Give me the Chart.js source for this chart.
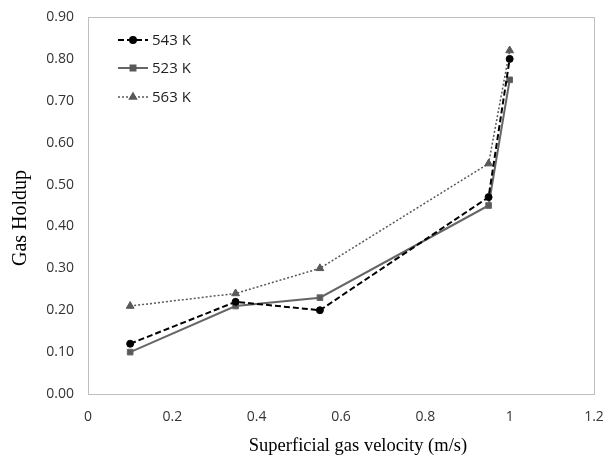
<!DOCTYPE html>
<html><head><meta charset="utf-8">
<script src="https://cdn.jsdelivr.net/npm/chart.js@4"></script>
<style>html,body{margin:0;padding:0;background:#fff}#wrap{width:612px;height:457px}</style>
</head><body><div id="wrap"><canvas id="c" width="612" height="457"></canvas></div>
<script>
const velocity = [0.1, 0.35, 0.55, 0.95, 1.0];
const holdup543 = [0.12, 0.22, 0.20, 0.47, 0.80];
const holdup523 = [0.10, 0.21, 0.23, 0.45, 0.75];
const holdup563 = [0.21, 0.24, 0.30, 0.55, 0.82];
const seriesNames = ['543 K', '523 K', '563 K'];
const xTitle = 'Superficial gas velocity (m/s)';
const yTitle = 'Gas Holdup';

function pts(ys){ return velocity.map((x,i)=>({x:x,y:ys[i]})); }

const ds = [
  {label:seriesNames[0], data:pts(holdup543), borderColor:'#000', backgroundColor:'#000', borderWidth:2, borderDash:[6,3], pointStyle:'circle', pointRadius:3.5, pointBorderWidth:1},
  {label:seriesNames[1], data:pts(holdup523), borderColor:'#666', backgroundColor:'#595959', borderWidth:2, borderDash:[], pointStyle:'rect', pointRadius:4, pointBorderWidth:1},
  {label:seriesNames[2], data:pts(holdup563), borderColor:'#595959', backgroundColor:'#595959', borderWidth:1.5, borderDash:[2,2], pointStyle:'triangle', pointRadius:4.5, pointBorderWidth:1}
];

const frame = {
  id:'frame',
  afterDraw(chart){
    const a = chart.chartArea, ctx = chart.ctx;
    ctx.save();
    ctx.strokeStyle = '#bfbfbf'; ctx.lineWidth = 1;
    ctx.strokeRect(Math.round(a.left)+0.5, Math.round(a.top)+0.5, Math.round(a.right-a.left), Math.round(a.bottom-a.top));
    // legend inside plot
    const x0 = 118, ys = [40, 68, 97];
    ctx.font = '15px "Open Sans", sans-serif';
    ctx.textBaseline = 'middle';
    ctx.textAlign = 'left';
    chart.data.datasets.forEach((d,i)=>{
      const y = ys[i];
      ctx.strokeStyle = d.borderColor; ctx.lineWidth = d.borderWidth;
      ctx.setLineDash(d.borderDash);
      ctx.beginPath(); ctx.moveTo(x0, y); ctx.lineTo(x0+30, y); ctx.stroke();
      ctx.setLineDash([]);
      ctx.fillStyle = d.backgroundColor;
      ctx.strokeStyle = d.backgroundColor;
      Chart.helpers.drawPoint(ctx, {pointStyle:d.pointStyle, radius:d.pointRadius-0.5, borderWidth:1}, x0+15, y);
      ctx.fillStyle = '#222';
      ctx.fillText(d.label, x0+34, y+1);
    });
    // axis titles
    ctx.fillStyle = '#000';
    ctx.textAlign = 'center';
    ctx.textBaseline = 'alphabetic';
    ctx.font = '18.5px "Liberation Serif", serif';
    ctx.fillText(xTitle, 358, 451);
    ctx.translate(26, 218);
    ctx.rotate(-Math.PI/2);
    ctx.font = '20px "Liberation Serif", serif';
    ctx.fillText(yTitle, 0, 0);
    ctx.restore();
  }
};

new Chart(document.getElementById('c'), {
  type:'line',
  data:{datasets:ds},
  options:{
    responsive:false, animation:false,
    layout:{padding:{top:17, right:18, left:0, bottom:0}},
    plugins:{legend:{display:false}, tooltip:{enabled:false}},
    scales:{
      x:{type:'linear', min:0, max:1.2,
        ticks:{stepSize:0.2, color:'#333', font:{family:'"Open Sans", sans-serif', size:14}, padding:15,
          callback:v=>Math.round(v*10)/10},
        grid:{display:false, drawTicks:false}, border:{display:false},
        afterFit(s){ s.height = 63; s.paddingLeft = 0; s.paddingRight = 0; }
      },
      y:{min:0, max:0.9,
        ticks:{stepSize:0.1, color:'#333', font:{family:'"Open Sans", sans-serif', size:14}, padding:14,
          callback:v=>v.toFixed(2)},
        grid:{display:false, drawTicks:false}, border:{display:false},
        afterFit(s){ s.width = 88; s.paddingTop = 0; s.paddingBottom = 0; }
      }
    }
  },
  plugins:[frame]
});
</script></body></html>
